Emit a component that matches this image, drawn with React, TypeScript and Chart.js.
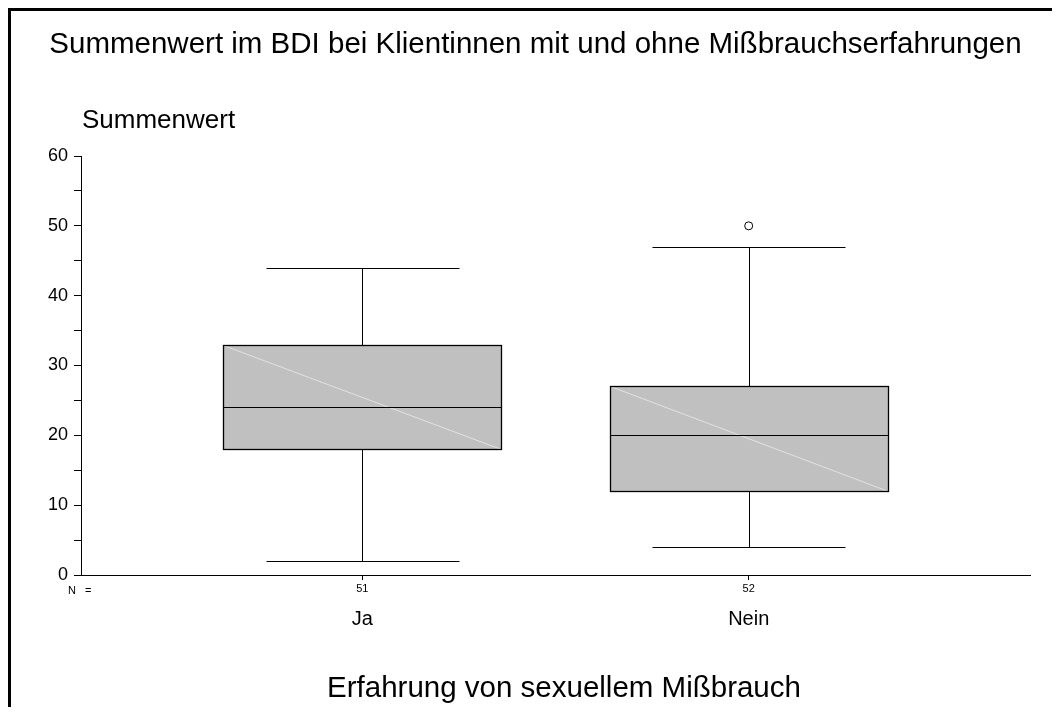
import React, { useEffect, useRef } from "react";
import { Chart, registerables } from "chart.js";

Chart.register(...registerables);

// Groups and their sample sizes
const categories = ["Ja", "Nein"];
const nCounts = [51, 52];

// Five-number summaries of the BDI sum score per group
const whiskerLow = [2, 4];
const q1 = [18, 12];
const median = [24, 20];
const q3 = [33, 27];
const whiskerHigh = [44, 47];

// Outliers: group position (1-based) and value
const outlierGroup = [2];
const outlierValue = [50];

const yTickStep = 5;
const yLabelStep = 10;

const FONT = "'Liberation Sans', Arial, sans-serif";
const BOX_WIDTH = 0.72; // in x-axis units
const CAP_WIDTH = 0.5;

const crisp = (v: number) => Math.round(v) + 0.5;

const boxPlotPlugin = {
  id: "boxPlot",
  beforeDatasetsDraw(chart: any) {
    const { ctx } = chart;
    const xs = chart.scales.x;
    const ys = chart.scales.y;
    ctx.save();
    categories.forEach((_, i) => {
      const c = i + 1;
      const xL = crisp(xs.getPixelForValue(c - BOX_WIDTH / 2));
      const xR = crisp(xs.getPixelForValue(c + BOX_WIDTH / 2));
      const xC = crisp(xs.getPixelForValue(c));
      const cL = crisp(xs.getPixelForValue(c - CAP_WIDTH / 2));
      const cR = crisp(xs.getPixelForValue(c + CAP_WIDTH / 2));
      const yQ1 = crisp(ys.getPixelForValue(q1[i]));
      const yQ3 = crisp(ys.getPixelForValue(q3[i]));
      const yMed = crisp(ys.getPixelForValue(median[i]));
      const yLo = crisp(ys.getPixelForValue(whiskerLow[i]));
      const yHi = crisp(ys.getPixelForValue(whiskerHigh[i]));

      ctx.strokeStyle = "#000";
      ctx.lineWidth = 1;

      // whiskers
      ctx.beginPath();
      ctx.moveTo(xC, yQ3);
      ctx.lineTo(xC, yHi);
      ctx.moveTo(cL, yHi);
      ctx.lineTo(cR, yHi);
      ctx.moveTo(xC, yQ1);
      ctx.lineTo(xC, yLo);
      ctx.moveTo(cL, yLo);
      ctx.lineTo(cR, yLo);
      ctx.stroke();

      // box
      ctx.fillStyle = "#c0c0c0";
      ctx.fillRect(xL, yQ3, xR - xL, yQ1 - yQ3);

      // light diagonal across the box
      ctx.strokeStyle = "#e2e2e2";
      ctx.beginPath();
      ctx.moveTo(xL, yQ3);
      ctx.lineTo(xR, yQ1);
      ctx.stroke();

      ctx.strokeStyle = "#000";
      ctx.lineWidth = 1.3;
      ctx.strokeRect(xL, yQ3, xR - xL, yQ1 - yQ3);

      // median
      ctx.lineWidth = 1.2;
      ctx.beginPath();
      ctx.moveTo(xL, yMed);
      ctx.lineTo(xR, yMed);
      ctx.stroke();
    });
    ctx.restore();
  },
  afterDraw(chart: any) {
    const { ctx, chartArea, width } = chart;
    const xs = chart.scales.x;
    ctx.save();
    ctx.fillStyle = "#000";
    ctx.textBaseline = "alphabetic";

    ctx.font = `29.5px ${FONT}`;
    ctx.textAlign = "center";
    ctx.fillText(
      "Summenwert im BDI bei Klientinnen mit und ohne Mißbrauchserfahrungen",
      width / 2,
      42
    );

    ctx.font = `26px ${FONT}`;
    ctx.textAlign = "left";
    ctx.fillText("Summenwert", chartArea.left + 1, 117);

    // "N =" row label in front of the group counts
    ctx.font = `11px ${FONT}`;
    ctx.textAlign = "left";
    ctx.fillText("N", chartArea.left - 13, 583);
    ctx.fillText("=", chartArea.left + 4, 583);

    ctx.font = `20px ${FONT}`;
    ctx.textAlign = "center";
    categories.forEach((cat, i) => {
      ctx.fillText(cat, xs.getPixelForValue(i + 1), 614);
    });

    ctx.font = `29.5px ${FONT}`;
    ctx.textAlign = "center";
    ctx.fillText("Erfahrung von sexuellem Mißbrauch", 553, 686);
    ctx.restore();
  },
};

export default function App() {
  const canvasRef = useRef<HTMLCanvasElement | null>(null);

  useEffect(() => {
    if (!canvasRef.current) return;
    const chart = new Chart(canvasRef.current, {
      type: "scatter",
      data: {
        datasets: [
          {
            label: "Ausreißer",
            data: outlierGroup.map((g, i) => ({ x: g, y: outlierValue[i] })),
            pointStyle: "circle",
            pointRadius: 4,
            pointBackgroundColor: "#fff",
            pointBorderColor: "#000",
            pointBorderWidth: 1,
          },
        ],
      },
      options: {
        animation: false,
        responsive: true,
        maintainAspectRatio: false,
        layout: { padding: { left: 0, right: 30, top: 145, bottom: 0 } },
        plugins: {
          legend: { display: false },
          title: { display: false },
          tooltip: { enabled: false },
        },
        scales: {
          x: {
            type: "linear",
            min: 0.272,
            max: 2.728,
            afterBuildTicks(scale: any) {
              scale.ticks = categories.map((_, i) => ({ value: i + 1 }));
            },
            afterFit(scale: any) {
              scale.height = 132;
            },
            ticks: {
              color: "#000",
              font: { family: FONT, size: 11 },
              padding: 2,
              maxRotation: 0,
              callback: (v: any) => String(nCounts[Number(v) - 1] ?? ""),
            },
            grid: {
              display: true,
              drawOnChartArea: false,
              drawTicks: true,
              tickLength: 5,
              color: "#000",
            },
            border: { display: true, color: "#000", width: 1 },
          },
          y: {
            type: "linear",
            min: 0,
            max: 60,
            afterFit(scale: any) {
              scale.width = 70;
            },
            ticks: {
              stepSize: yTickStep,
              color: "#000",
              font: { family: FONT, size: 18 },
              padding: 6,
              callback: (v: any) => (Number(v) % yLabelStep === 0 ? String(v) : ""),
            },
            grid: {
              display: true,
              drawOnChartArea: false,
              drawTicks: true,
              tickLength: 7,
              color: "#000",
            },
            border: { display: true, color: "#000", width: 1 },
          },
        },
      },
      plugins: [boxPlotPlugin],
    });
    return () => chart.destroy();
  }, []);

  return (
    <div
      style={{
        width: 1052,
        height: 699,
        boxSizing: "border-box",
        borderTop: "3px solid #000",
        borderLeft: "3px solid #000",
        background: "#fff",
      }}
    >
      <div style={{ position: "relative", width: 1049, height: 696 }}>
        <canvas ref={canvasRef} />
      </div>
    </div>
  );
}
